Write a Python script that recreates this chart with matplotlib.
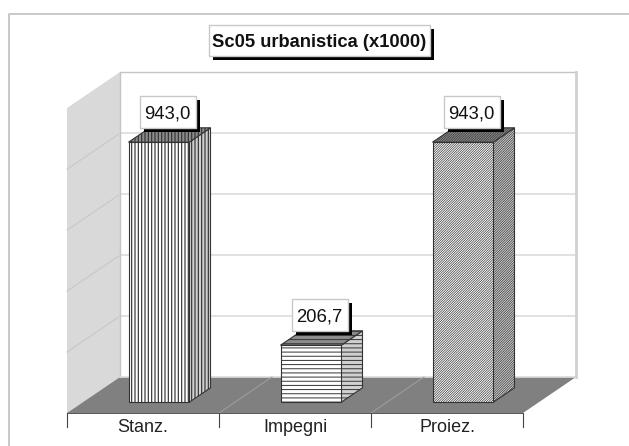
import matplotlib
matplotlib.use('Agg')
import matplotlib.pyplot as plt
from matplotlib.lines import Line2D
from matplotlib.patches import Polygon, Rectangle

plt.rcParams['font.family'] = ['Liberation Sans', 'DejaVu Sans']

# chart data
categories = ['Stanz.', 'Impegni', 'Proiez.']
values = [943.0, 206.7, 943.0]
labels = ['943,0', '206,7', '943,0']
grid_values = [221, 442, 663, 884]
wall_top = 1106

# bar styles
hatches = ['|' * 5, '-' * 4, '/' * 14]
hatch_widths = [0.85, 0.7, 0.48]

# oblique projection, sizes in pixels
W, H = 629, 446
X0, Y0 = 67, 413
CAT_W = 152
PX_PER_VAL = 0.2757
DEPTH_X = 53 / CAT_W
DEPTH_Y = 36 / PX_PER_VAL
BAR_L, BAR_R = 0.3, 0.7


def proj(x, v, d):
    return (x + d * DEPTH_X, v + d * DEPTH_Y)


fig = plt.figure(figsize=(W / 100, H / 100), dpi=100)
ax = fig.add_axes([0, 0, 1, 1])
ax.set_xlim(-X0 / CAT_W, (W - X0) / CAT_W)
ax.set_ylim((Y0 - H) / PX_PER_VAL, Y0 / PX_PER_VAL)
ax.axis('off')

n = len(categories)

# outer frame
fig.add_artist(Line2D([9 / W, 9 / W, 1], [0, 1 - 13.5 / H, 1 - 13.5 / H],
                      color='#c0c0c0', lw=1.2))

# walls and floor
ax.add_patch(Polygon([proj(0, 0, 0), proj(0, 0, 1), proj(0, wall_top, 1), proj(0, wall_top, 0)],
                     fc='#d9d9d9', ec='none', zorder=1))
ax.add_patch(Polygon([proj(0, 0, 0), proj(n, 0, 0), proj(n, 0, 1), proj(0, 0, 1)],
                     fc='#808080', ec='none', zorder=1))

for g in grid_values:
    xs, ys = zip(proj(0, g, 0), proj(0, g, 1), proj(n, g, 1))
    ax.plot(xs[:2], ys[:2], color='#c8c8c8', lw=0.8, zorder=2)
    ax.plot(xs[1:], ys[1:], color='#dcdcdc', lw=1.2, zorder=2)

xs, ys = zip(proj(0, 0, 1), proj(0, wall_top, 1), proj(n, wall_top, 1))
ax.plot(xs, ys, color='#c4c4c4', lw=1, zorder=2)
xs, ys = zip(proj(0, 0, 1), proj(n, 0, 1))
ax.plot(xs, ys, color='#dcdcdc', lw=1.2, zorder=2)
xs, ys = zip(proj(n, 0, 1), proj(n, wall_top, 1))
ax.plot(xs, ys, color='#d0d0d0', lw=2, zorder=2)

# floor lines and ticks
for i in range(n + 1):
    xs, ys = zip(proj(i, 0, 0), proj(i, 0, 1))
    if 0 < i < n:
        ax.plot(xs, ys, color='#a0a0a0', lw=0.7, zorder=2)
    ax.plot([i, i], [0, -14 / PX_PER_VAL], color='#444444', lw=0.8, zorder=2)
ax.plot([0, n], [0, 0], color='#555555', lw=0.7, zorder=2)

# bars
for i, v in enumerate(values):
    plt.rcParams['hatch.linewidth'] = hatch_widths[i]
    a, b = i + BAR_L, i + BAR_R
    side = [proj(b, 0, BAR_L), proj(b, 0, BAR_R), proj(b, v, BAR_R), proj(b, v, BAR_L)]
    top = [proj(a, v, BAR_L), proj(b, v, BAR_L), proj(b, v, BAR_R), proj(a, v, BAR_R)]
    front = [proj(a, 0, BAR_L), proj(b, 0, BAR_L), proj(b, v, BAR_L), proj(a, v, BAR_L)]
    ax.add_patch(Polygon(side, fc='#d0d0d0', ec='#333333', hatch=hatches[i], lw=0.8, zorder=3))
    ax.add_patch(Polygon(top, fc='#8c8c8c', ec='#333333', hatch=hatches[i], lw=0.8, zorder=3))
    ax.add_patch(Polygon(front, fc='white', ec='#333333', hatch=hatches[i], lw=0.8, zorder=3))


def boxed(x, y, text, w, h, **kw):
    # x, y is the box centre, w and h are in pixels
    bw, bh = w / CAT_W, h / PX_PER_VAL
    sx, sy = 4 / CAT_W, 4 / PX_PER_VAL
    ax.add_patch(Rectangle((x - bw / 2 + sx, y - bh / 2 - sy), bw, bh, fc='black', ec='none', zorder=4))
    ax.add_patch(Rectangle((x - bw / 2, y - bh / 2), bw, bh, fc='white', ec='#c8c8c8', lw=1, zorder=5))
    ax.text(x, y, text, ha='center', va='center_baseline', color='#111111', zorder=6, **kw)


# value labels
for i, v in enumerate(values):
    x, y = proj(i + 0.5, v, 0.5)
    boxed(x - 2 / CAT_W, y + 23 / PX_PER_VAL, labels[i], 56, 32, fontsize=13.3)

# category labels
for i, c in enumerate(categories):
    ax.text(i + 0.5, -15 / PX_PER_VAL, c, ha='center', va='center', fontsize=13, color='#222222')

# title
title_x = (319.5 - X0) / CAT_W
title_y = (Y0 - 40.5) / PX_PER_VAL
boxed(title_x, title_y, 'Sc05 urbanistica (x1000)', 221, 31, fontsize=13.2, fontweight='bold')

fig.savefig('out.png', dpi=100)
